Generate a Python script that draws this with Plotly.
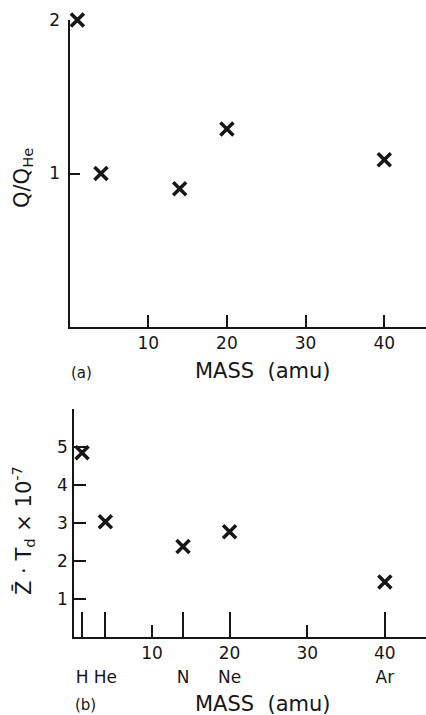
import plotly.graph_objects as go

# ---- data ----
elements = ["H", "He", "N", "Ne", "Ar"]
mass = [1, 4, 14, 20, 40]
q_ratio = [2.0, 1.0, 0.9, 1.29, 1.09]          # Q/Q_He   (panel a)
z_td = [4.85, 3.03, 2.38, 2.77, 1.45]          # Z·Td x 1e-7 (panel b)
mass_ticks = [10, 20, 30, 40]
q_ticks = [1, 2]
z_ticks = [1, 2, 3, 4, 5]

W, H = 426, 715
INK = "#161616"
FONT = "DejaVu Sans"

fig = go.Figure()
marker = dict(symbol="x-thin-open", size=13, color=INK, line=dict(width=3.5, color=INK))

fig.add_trace(go.Scatter(x=mass, y=q_ratio, mode="markers", marker=marker,
                         xaxis="x", yaxis="y", cliponaxis=False, showlegend=False))
fig.add_trace(go.Scatter(x=mass, y=z_td, mode="markers", marker=marker,
                         xaxis="x2", yaxis="y2", cliponaxis=False, showlegend=False))
# empty trace so the element-label axis is drawn
fig.add_trace(go.Scatter(x=[], y=[], mode="markers", xaxis="x3", yaxis="y2",
                         showlegend=False, hoverinfo="skip"))

axis_common = dict(showgrid=False, zeroline=False, showline=True, linecolor=INK,
                   linewidth=2, ticks="inside", tickcolor=INK, tickwidth=2,
                   tickfont=dict(family=FONT, size=17, color=INK), fixedrange=True,
                   automargin=False)

fig.update_layout(
    width=W, height=H, margin=dict(l=0, r=0, t=0, b=0, autoexpand=False),
    paper_bgcolor="white", plot_bgcolor="white",
    xaxis=dict(axis_common, domain=[69.5 / W, 1], range=[0, 45.3], anchor="y",
               tickvals=mass_ticks, ticklen=12),
    yaxis=dict(axis_common, domain=[(H - 327) / H, (H - 20) / H], range=[0, 2.0],
               anchor="x", tickvals=q_ticks, ticklen=10, ticklabelstandoff=4),
    xaxis2=dict(axis_common, domain=[74.3 / W, 1], range=[0, 45.3], anchor="y2",
                tickvals=mass_ticks, ticklen=12),
    xaxis3=dict(axis_common, domain=[74.3 / W, 1], range=[0, 45.3], anchor="y2",
                overlaying="x2", side="bottom", tickvals=mass, ticktext=elements,
                ticklen=25, ticklabelstandoff=28, showline=False),
    yaxis2=dict(axis_common, domain=[(H - 637) / H, (H - 409) / H], range=[0, 6.0],
                anchor="x2", tickvals=z_ticks, ticklen=12, ticklabelstandoff=1),
)

ann_font = dict(family=FONT, size=21, color=INK)
small_font = dict(family=FONT, size=15, color=INK)


def note(text, px, py, font, angle=0):
    fig.add_annotation(text=text, x=px / W, y=(H - py) / H, xref="paper", yref="paper",
                       xanchor="center", yanchor="middle", showarrow=False,
                       textangle=angle, font=font)


note("MASS  (amu)", 263, 371, ann_font)
note("(a)", 81, 373, small_font)
note("MASS  (amu)", 263, 704, ann_font)
note("(b)", 85, 705, small_font)
note("Q/Q<sub>He</sub>", 23, 178, ann_font, -90)
note("Z\u0304 \u00b7 T<sub>d</sub> \u00d7 10<sup>-7</sup>", 23, 531, ann_font, -90)

fig.write_html("out.html", config={"displayModeBar": False},
               post_script="document.body.style.margin='0';")
